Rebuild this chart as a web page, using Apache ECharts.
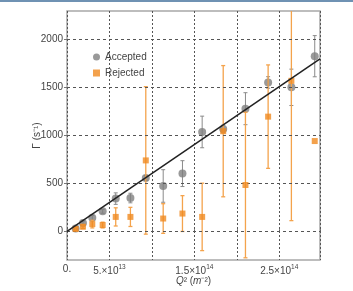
<!DOCTYPE html>
<html>
<head>
<meta charset="utf-8">
<script src="https://cdn.jsdelivr.net/npm/echarts@6/dist/echarts.min.js"></script>
<style>
html, body { margin: 0; padding: 0; background: #fff; }
#chart { width: 353px; height: 291px; }
</style>
</head>
<body>
<div id="chart"></div>
<script>
// Q^2 in units of 1e13 m^-2
const q2 = [1.02, 1.88, 2.98, 4.2, 5.74, 7.47, 9.28, 11.33, 13.6, 15.92, 18.4, 21.02, 23.69, 26.43, 29.18];
const accepted = [30, 86, 140, 208, 341, 347, 556, 473, 602, 1037, 1068, 1280, 1554, 1503, 1828];
const acceptedErr = [15, 20, 25, 20, 60, 50, 25, 170, 135, 165, 40, 167, 60, 190, 215];
const rejected = [24, 48, 75, 65, 150, 150, 740, 133, 185, 150, 1045, 483, 1197, 1571, 942];
const rejectedErr = [15, 20, 40, 30, 95, 100, 770, 155, 187, 352, 685, 760, 540, 1460, 0];
const fitLine = [[0, 0], [29.8, 1800]];
const yTicks = [0, 500, 1000, 1500, 2000];
const xTickLabels = { 0: '0.', 5: '5.×10|13', 15: '1.5×10|14', 25: '2.5×10|14' };

const FONT = '"Liberation Sans Narrow", "Liberation Sans", Arial, sans-serif';
const GRAY = '#808080';
const ORANGE = '#f0891f';

const errData = (vals, errs) => vals.map((v, i) => [q2[i], v - errs[i], v + errs[i]]);

const errBar = (color, width) => (params, api) => {
    const x = api.value(0);
    const lo = api.coord([x, api.value(1)]);
    const hi = api.coord([x, api.value(2)]);
    if (api.value(2) - api.value(1) <= 0) return null;
    const style = { stroke: color, lineWidth: width };
    return {
        type: 'group',
        children: [
            { type: 'line', shape: { x1: lo[0], y1: lo[1], x2: hi[0], y2: hi[1] }, style },
            { type: 'line', shape: { x1: lo[0] - 2, y1: lo[1], x2: lo[0] + 2, y2: lo[1] }, style },
            { type: 'line', shape: { x1: hi[0] - 2, y1: hi[1], x2: hi[0] + 2, y2: hi[1] }, style },
        ],
    };
};

const chart = echarts.init(document.getElementById('chart'));
chart.setOption({
    animation: false,
    textStyle: { fontFamily: FONT },
    graphic: [{
        type: 'rect', left: 0, top: 0, shape: { width: 353, height: 2 },
        style: { fill: '#6f92b3' }, silent: true,
    }],
    grid: {
        left: 67, right: 33, top: 11, bottom: 26,
        show: true, borderColor: '#a8a8a8', borderWidth: 1.5,
    },
    legend: {
        data: [
            { name: 'Accepted', icon: 'circle' },
            { name: 'Rejected', icon: 'rect' },
        ],
        orient: 'vertical',
        left: 88,
        top: 47,
        itemWidth: 7,
        itemHeight: 7,
        itemGap: 6,
        textStyle: { fontSize: 10, color: '#444', fontFamily: FONT },
    },
    xAxis: {
        type: 'value',
        min: 0,
        max: 29.8,
        interval: 5,
        name: '{i|Q}² ({i|m}⁻²)',
        nameLocation: 'middle',
        nameGap: 16,
        nameMoveOverlap: false,
        nameTextStyle: {
            fontSize: 10, color: '#444', fontFamily: FONT,
            rich: { i: { fontStyle: 'italic', fontSize: 10, color: '#444', fontFamily: FONT } },
        },
        axisLine: { show: false },
        axisTick: { show: true, inside: true, length: 2, lineStyle: { color: '#666' } },
        axisLabel: {
            margin: 4,
            color: '#444',
            fontSize: 10,
            formatter(v) {
                const t = xTickLabels[v];
                if (!t) return '';
                const parts = t.split('|');
                return parts.length > 1 ? `{b|${parts[0]}}{s|${parts[1]}}` : `{b|${parts[0]}}`;
            },
            rich: {
                b: { fontSize: 10, color: '#444', fontFamily: FONT },
                s: { fontSize: 6.5, color: '#444', fontFamily: FONT, padding: [0, 0, 7, 0] },
            },
        },
        splitLine: { show: true, lineStyle: { color: '#555', type: [2, 2], width: 1 } },
    },
    yAxis: {
        type: 'value',
        min: -300,
        max: 2300,
        name: 'Γ (s⁻¹)',
        nameLocation: 'middle',
        nameGap: 25,
        nameMoveOverlap: false,
        nameTextStyle: { fontSize: 10, color: '#444', fontFamily: FONT },
        axisLine: { show: false },
        axisTick: { show: true, length: 3, customValues: yTicks, lineStyle: { color: '#777' } },
        axisLabel: {
            customValues: yTicks, color: '#444', fontSize: 10, margin: 4,
            formatter: v => String(v),
        },
        splitLine: { show: false },
    },
    series: [
        {
            type: 'custom',
            name: 'accErr',
            data: errData(accepted, acceptedErr),
            renderItem: errBar('#8a8a8a', 1),
            clip: true,
            z: 2,
        },
        {
            type: 'scatter',
            name: 'Accepted',
            data: q2.map((x, i) => [x, accepted[i]]),
            symbol: 'circle',
            symbolSize: 8,
            itemStyle: { color: GRAY },
            z: 3,
        },
        {
            type: 'custom',
            name: 'rejErr',
            data: errData(rejected, rejectedErr),
            renderItem: errBar('#f4a34c', 1.3),
            clip: true,
            z: 4,
        },
        {
            type: 'scatter',
            name: 'Rejected',
            data: q2.map((x, i) => [x, rejected[i]]),
            symbol: 'rect',
            symbolSize: 6,
            itemStyle: { color: ORANGE },
            z: 5,
        },
        {
            type: 'line',
            name: 'fit',
            data: fitLine,
            showSymbol: false,
            lineStyle: { color: '#222', width: 1.5 },
            z: 6,
            markLine: {
                silent: true,
                symbol: ['none', 'none'],
                label: { show: false },
                lineStyle: { color: '#555', type: [3, 3], width: 1 },
                data: yTicks.map(v => ({ yAxis: v })),
            },
        },
    ],
});
</script>
</body>
</html>
